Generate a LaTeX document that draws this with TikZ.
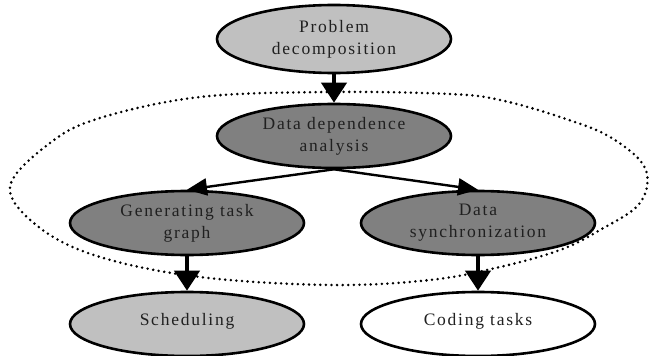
\documentclass[tikz,border=0pt]{standalone}
\usepackage{fontspec}
\setmainfont[LetterSpace=10]{Liberation Serif}
\usetikzlibrary{shapes.geometric,arrows.meta}
\definecolor{lightfill}{HTML}{C0C0C0}
\definecolor{darkfill}{HTML}{808080}
\definecolor{labelink}{HTML}{202020}
\begin{document}
\begin{tikzpicture}[x=1pt,y=-1pt,
  proc/.style={ellipse, draw, line width=2.6pt, minimum width=234pt,
    minimum height=64pt, inner sep=0pt, align=center,
    font=\fontsize{17.5}{22}\selectfont, text=labelink},
  lightproc/.style={proc, fill=lightfill},
  darkproc/.style={proc, fill=darkfill},
  plainproc/.style={proc, fill=white},
  oneline/.style={text height=12pt, text depth=10pt},
  mainflow/.style={line width=4.2pt, -{Triangle[width=25pt,length=20pt]}},
  sideflow/.style={line width=2.4pt, -{Triangle[width=17pt,length=20pt]}},
  groupline/.style={line width=2.8pt, line cap=round, dash pattern=on 0pt off 5.6pt}]
\useasboundingbox (0,0) rectangle (649,356);

% dotted boundary round the analysis stage
\draw[groupline] plot[smooth cycle, tension=0.6] coordinates {
  (10,187) (50,143) (100,118) (200,97) (330,92) (450,94) (500,100)
  (560,117) (610,137) (645,168) (640,203) (600,230) (560,250)
  (500,267) (430,280) (330,285) (200,277) (100,257) (40,228)};

\node[lightproc, minimum height=68pt] (pd) at (334,39) {Problem\\decomposition};
\node[darkproc] (dda) at (334,136) {Data dependence\\analysis};
\node[darkproc] (gtg) at (187,223) {Generating task\\graph};
\node[darkproc] (ds) at (478,223) {Data\\synchronization};
\node[lightproc, oneline] (sch) at (187,324) {Scheduling};
\node[plainproc, oneline] (code) at (478,324) {Coding tasks};

\draw[mainflow] (pd.south) -- (dda.north);
\draw[sideflow] (dda.south) -- (gtg.north);
\draw[sideflow] (dda.south) -- (ds.north);
\draw[mainflow] (gtg.south) -- (sch.north);
\draw[mainflow] (ds.south) -- (code.north);
\end{tikzpicture}
\end{document}
